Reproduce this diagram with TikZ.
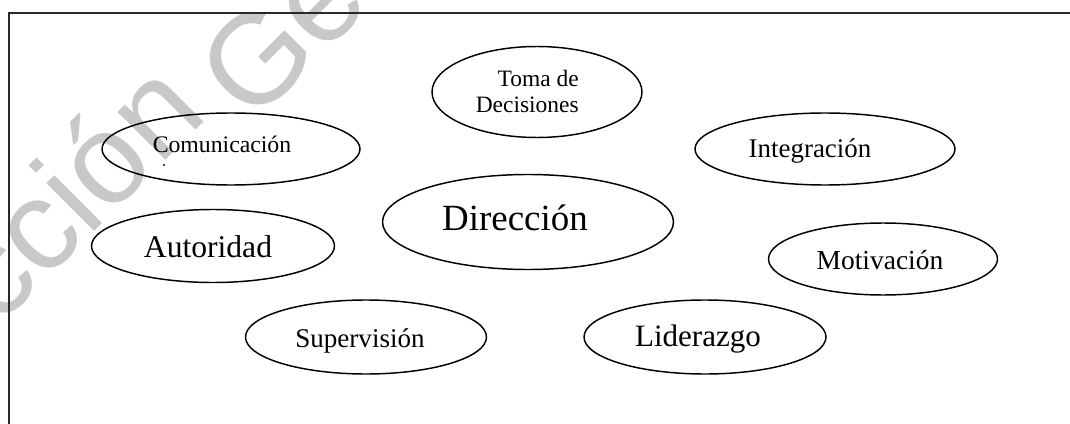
\documentclass[tikz,border=0pt]{standalone}
\usepackage{fontspec}
\setmainfont{Liberation Serif}
\newfontfamily\wmfont{Liberation Sans}
\usetikzlibrary{shapes.geometric}
\definecolor{wmgray}{RGB}{200,200,200}
\definecolor{framegray}{RGB}{40,40,40}
\begin{document}
\begin{tikzpicture}[x=0.75pt,y=-0.75pt,
  ell/.style={draw=black, ellipse, line width=1.1pt, inner sep=0pt},
  lbl/.style={anchor=base, inner sep=0pt, text=black},
  wm/.style={text=wmgray, inner sep=0pt, rotate=45, anchor=base west, font=\wmfont\fontsize{96}{100}\selectfont}]
\useasboundingbox (0,0) rectangle (1070,424);
\clip (0,0) rectangle (1070,424);
\fill[white] (0,0) rectangle (1070,424);
% watermark
\node[wm] (wm1) at (-168,494) {Dirección};
\node[wm] (wm2) at (252,126) {General};
% frame
\draw[framegray, line width=1.4pt] (9,440) -- (9,13) -- (1080,13);
% ellipses
\node[ell, minimum width=193.5pt, minimum height=54pt] (com) at (231,149) {};
\node[ell, minimum width=157.5pt, minimum height=68.25pt] (toma) at (537,92) {};
\node[ell, minimum width=218.25pt, minimum height=71.25pt] (dir) at (528,222) {};
\node[ell, minimum width=195pt, minimum height=54pt] (int) at (825,149) {};
\node[ell, minimum width=182.25pt, minimum height=54.75pt] (aut) at (213,246) {};
\node[ell, minimum width=171.75pt, minimum height=54pt] (mot) at (883,259) {};
\node[ell, minimum width=180.75pt, minimum height=55.5pt] (sup) at (366,337) {};
\node[ell, minimum width=181.5pt, minimum height=55.5pt] (lid) at (705,337) {};
% labels
\node[lbl, font=\fontsize{17.8}{20}\selectfont] (comT) at (222,153) {Comunicación};
\fill (164,165) circle (1.1);
\node[lbl, font=\fontsize{17.6}{20}\selectfont, anchor=base east] (tomaT) at (579,87) {Toma de};
\node[lbl, font=\fontsize{17.6}{20}\selectfont, anchor=base east] (decT) at (579,113) {Decisiones};
\node[lbl, font=\fontsize{27.7}{30}\selectfont] (dirT) at (515,230) {Dirección};
\node[lbl, font=\fontsize{20.2}{22}\selectfont] (intT) at (810,157) {Integración};
\node[lbl, font=\fontsize{23.7}{26}\selectfont] (autT) at (208,257) {Autoridad};
\node[lbl, font=\fontsize{20.6}{22}\selectfont] (motT) at (880,269) {Motivación};
\node[lbl, font=\fontsize{20.3}{22}\selectfont] (supT) at (360,347) {Supervisión};
\node[lbl, font=\fontsize{23.3}{26}\selectfont] (lidT) at (698,346) {Liderazgo};
\end{tikzpicture}
\end{document}
